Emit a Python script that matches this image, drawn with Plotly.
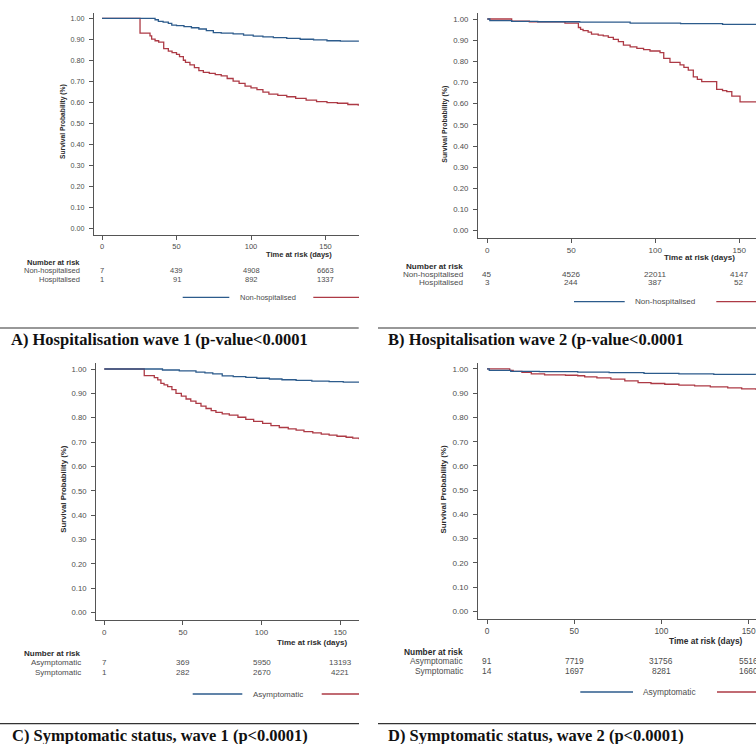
import plotly.graph_objects as go

# ---------------- data ----------------
# Panel A: Hospitalisation wave 1
a_blue_t = [0, 35.6, 37.8, 41, 44.5, 46.8, 50, 55, 60, 65, 70, 74.7, 80, 88, 95, 101.5, 108, 115, 124, 133, 142, 151, 160, 172]
a_blue_s = [1.000, 0.993, 0.985, 0.982, 0.976, 0.967, 0.965, 0.960, 0.955, 0.949, 0.941, 0.932, 0.929, 0.926, 0.920, 0.915, 0.911, 0.908, 0.904, 0.900, 0.897, 0.893, 0.891, 0.888]
a_red_t = [0, 25.5, 32.2, 33.3, 35.6, 38, 41.4, 44.5, 47, 50, 52, 54.6, 56, 59, 62, 65, 68, 72, 76, 80, 84, 88, 92, 96, 100, 104, 108, 112, 118, 124, 130, 137, 144, 151, 158, 165, 172]
a_red_s = [1.000, 0.929, 0.916, 0.901, 0.893, 0.886, 0.855, 0.843, 0.836, 0.828, 0.817, 0.800, 0.790, 0.778, 0.765, 0.750, 0.742, 0.737, 0.731, 0.725, 0.713, 0.700, 0.690, 0.677, 0.668, 0.660, 0.648, 0.638, 0.632, 0.626, 0.618, 0.610, 0.603, 0.598, 0.595, 0.589, 0.583]

# Panel B: Hospitalisation wave 2
b_blue_t = [0, 1.5, 14.5, 30, 55, 85, 115, 140, 160]
b_blue_s = [1.000, 0.992, 0.989, 0.987, 0.985, 0.981, 0.978, 0.975, 0.973]
b_red_t = [0, 14.5, 25, 46.2, 54.2, 55.5, 57, 60, 62, 66, 69, 72, 75, 78, 81, 85, 89, 93, 96.8, 102.8, 105, 108.7, 114.7, 117, 119.6, 122.6, 125, 127.6, 136.5, 140, 142.5, 145.5, 150.4, 160]
b_red_s = [1.000, 0.990, 0.987, 0.981, 0.960, 0.951, 0.945, 0.938, 0.929, 0.924, 0.920, 0.913, 0.904, 0.893, 0.877, 0.868, 0.861, 0.855, 0.849, 0.841, 0.814, 0.795, 0.783, 0.772, 0.759, 0.727, 0.715, 0.704, 0.668, 0.662, 0.657, 0.636, 0.609, 0.609]

# Panel C: Symptomatic status, wave 1
c_blue_t = [0, 37, 47.7, 58.3, 64, 69, 75, 82, 90, 97, 105, 113, 122, 132, 143, 152, 162]
c_blue_s = [1.000, 0.996, 0.992, 0.987, 0.984, 0.980, 0.972, 0.969, 0.966, 0.962, 0.959, 0.956, 0.953, 0.950, 0.948, 0.946, 0.944]
c_red_t = [0, 25.4, 31.8, 34, 36, 38, 40.3, 43, 45.6, 49, 52, 55, 58.3, 61.5, 64.7, 68, 71, 75, 79.5, 85, 90, 95, 100.7, 106, 111.3, 117, 122, 127, 132.6, 138, 143, 148, 153.8, 158, 162]
c_red_s = [1.000, 0.973, 0.965, 0.955, 0.941, 0.935, 0.928, 0.915, 0.900, 0.889, 0.877, 0.868, 0.859, 0.848, 0.838, 0.829, 0.822, 0.816, 0.811, 0.802, 0.793, 0.785, 0.777, 0.768, 0.760, 0.754, 0.749, 0.743, 0.738, 0.733, 0.729, 0.724, 0.720, 0.716, 0.712]

# Panel D: Symptomatic status, wave 2
d_blue_t = [0, 1.3, 13.6, 30, 52, 70, 90, 110, 130, 154]
d_blue_s = [1.000, 0.994, 0.990, 0.989, 0.987, 0.985, 0.982, 0.980, 0.978, 0.976]
d_red_t = [0, 13, 15, 20, 25.4, 33, 45, 52, 56, 63, 71, 79, 86.6, 94, 101.9, 110, 119, 128, 138, 146, 154]
d_red_s = [1.000, 0.994, 0.990, 0.986, 0.980, 0.976, 0.974, 0.972, 0.967, 0.963, 0.958, 0.951, 0.944, 0.940, 0.937, 0.933, 0.930, 0.926, 0.922, 0.918, 0.914]

risk_times = [0, 50, 100, 150]
x_ticks = [0, 50, 100, 150]
y_ticks = [0.0, 0.1, 0.2, 0.3, 0.4, 0.5, 0.6, 0.7, 0.8, 0.9, 1.0]

a_groups = ["Non-hospitalised", "Hospitalised"]
a_risk_1 = ["7", "439", "4908", "6663"]
a_risk_2 = ["1", "91", "892", "1337"]
b_groups = ["Non-hospitalised", "Hospitalised"]
b_risk_1 = ["45", "4526", "22011", "4147"]
b_risk_2 = ["3", "244", "387", "52"]
c_groups = ["Asymptomatic", "Symptomatic"]
c_risk_1 = ["7", "369", "5950", "13193"]
c_risk_2 = ["1", "282", "2670", "4221"]
d_groups = ["Asymptomatic", "Symptomatic"]
d_risk_1 = ["91", "7719", "31756", "5516"]
d_risk_2 = ["14", "1697", "8281", "1660"]

captions = [
    "A) Hospitalisation wave 1 (p-value<0.0001",
    "B) Hospitalisation wave 2 (p-value<0.0001",
    "C) Symptomatic status, wave 1 (p<0.0001)",
    "D) Symptomatic status, wave 2 (p<0.0001)",
]

y_title = "Survival Probability (%)"
x_title = "Time at risk (days)"

# ---------------- layout helpers ----------------
W, H = 756, 744
def fx(x):
    return x / W
def fy(y):
    return 1 - y / H

BLUE = "#2c5b8c"
RED = "#ad3a45"
AX = "#555555"
TXT = "#4d4d4d"
BOLD = "#2b2b2b"
SANS = "Liberation Sans, Arial, sans-serif"
SERIF = "Liberation Serif, Times New Roman, serif"

panels = [
    dict(sfx="", xdom=(94, 359), ydom=(12.7, 235), xr=(-5.4, 172.5), yr=(-0.0334, 1.0267), fs=7.5, yfs=6.7,
         blue=(a_blue_t, a_blue_s), red=(a_red_t, a_red_s),
         groups=a_groups, r1=a_risk_1, r2=a_risk_2,
         ytitle=(63, 122), xtitle=(298.5, 254.5), nar_x=82, nar_y=(262.5, 270.5, 279),
         leg=(182.7, 229.3, 237.7, 313.3, 359, 297.3),
         cap=(9.3, 339.5), rule=(0, 358.7, 328)),
    dict(sfx="2", xdom=(478, 756), ydom=(13.3, 238), xr=(-5.54, 159.9), yr=(-0.0345, 1.027), fs=8.1, yfs=6.9,
         blue=(b_blue_t, b_blue_s), red=(b_red_t, b_red_s),
         groups=b_groups, r1=b_risk_1, r2=b_risk_2,
         ytitle=(444.7, 124), xtitle=(699, 257.5), nar_x=465.3, nar_y=(266.3, 274.3, 282.7),
         leg=(574, 624.7, 633, 716.3, 756, 301.7),
         cap=(386.3, 339.5), rule=(378, 756, 328)),
    dict(sfx="3", xdom=(96, 359), ydom=(362.5, 620.3), xr=(-5.28, 162), yr=(-0.0313, 1.0267), fs=8.0, yfs=7.8,
         blue=(c_blue_t, c_blue_s), red=(c_red_t, c_red_s),
         groups=c_groups, r1=c_risk_1, r2=c_risk_2,
         ytitle=(63.3, 489.5), xtitle=(311.7, 642.5), nar_x=82.7, nar_y=(653, 662, 672),
         leg=(192.7, 242.3, 250.7, 321.7, 359, 694),
         cap=(10, 735), rule=(0, 359, 723.7)),
    dict(sfx="4", xdom=(478, 756), ydom=(362.5, 619.3), xr=(-5.16, 154.2), yr=(-0.033, 1.0267), fs=8.4, yfs=7.9,
         blue=(d_blue_t, d_blue_s), red=(d_red_t, d_red_s),
         groups=d_groups, r1=d_risk_1, r2=d_risk_2,
         ytitle=(443.7, 488.8), xtitle=(706.3, 641.3), nar_x=464.7, nar_y=(651.6, 661, 670.7),
         leg=(580.3, 633, 641.3, 717, 756, 692),
         cap=(386.3, 735), rule=(378, 756, 723.7)),
]

fig = go.Figure()
annotations = []
shapes = []
layout_axes = {}

for i, p in enumerate(panels):
    s = p["sfx"]
    xa = "x" + s
    ya = "y" + s
    for (t, v), col in ((p["red"], RED), (p["blue"], BLUE)):
        fig.add_trace(go.Scatter(x=t, y=v, mode="lines", xaxis=xa, yaxis=ya,
                                 line=dict(shape="hv", color=col, width=1.3),
                                 showlegend=False, hoverinfo="skip"))
    layout_axes["xaxis" + s] = dict(
        domain=[fx(p["xdom"][0]), fx(p["xdom"][1])], range=list(p["xr"]), anchor=ya,
        showline=True, linecolor=AX, linewidth=1, ticks="outside", ticklen=4, tickcolor=AX,
        tickvals=x_ticks, showgrid=False, zeroline=False,
        tickfont=dict(family=SANS, size=p["fs"], color=TXT), fixedrange=True)
    layout_axes["yaxis" + s] = dict(
        domain=[fy(p["ydom"][1]), fy(p["ydom"][0])], range=list(p["yr"]), anchor=xa,
        showline=True, linecolor=AX, linewidth=1, ticks="outside", ticklen=4, tickcolor=AX,
        tickvals=y_ticks, tickformat=".2f", showgrid=False, zeroline=False,
        ticklabelstandoff=3,
        tickfont=dict(family=SANS, size=p["fs"] - 0.3, color=TXT), fixedrange=True)

    # axis titles
    annotations.append(dict(text="<b>" + y_title + "</b>", xref="paper", yref="paper",
                            x=fx(p["ytitle"][0]), y=fy(p["ytitle"][1]), textangle=-90,
                            showarrow=False, xanchor="center", yanchor="middle",
                            font=dict(family=SANS, size=p["yfs"], color=BOLD)))
    annotations.append(dict(text="<b>" + x_title + "</b>", xref="paper", yref="paper",
                            x=fx(p["xtitle"][0]), y=fy(p["xtitle"][1]),
                            showarrow=False, xanchor="center", yanchor="middle",
                            font=dict(family=SANS, size=p["fs"], color=BOLD)))
    # number at risk
    ny = p["nar_y"]
    annotations.append(dict(text="<b>Number at risk</b>", xref="paper", yref="paper",
                            x=fx(p["nar_x"]), y=fy(ny[0]), showarrow=False,
                            xanchor="right", yanchor="middle",
                            font=dict(family=SANS, size=p["fs"], color=BOLD)))
    for g, row, yy in ((p["groups"][0], p["r1"], ny[1]), (p["groups"][1], p["r2"], ny[2])):
        annotations.append(dict(text=g, xref="paper", yref="paper",
                                x=fx(p["nar_x"]), y=fy(yy), showarrow=False,
                                xanchor="right", yanchor="middle",
                                font=dict(family=SANS, size=p["fs"], color=TXT)))
        for tval, n in zip(risk_times, row):
            annotations.append(dict(text=n, xref=xa, yref="paper", x=tval, y=fy(yy),
                                    showarrow=False, xanchor="center", yanchor="middle",
                                    font=dict(family=SANS, size=p["fs"], color=TXT)))
    # legend keys
    bx0, bx1, tx, rx0, rx1, ly = p["leg"]
    shapes.append(dict(type="line", xref="paper", yref="paper", x0=fx(bx0), x1=fx(bx1),
                       y0=fy(ly), y1=fy(ly), line=dict(color=BLUE, width=1.3)))
    shapes.append(dict(type="line", xref="paper", yref="paper", x0=fx(rx0), x1=fx(rx1),
                       y0=fy(ly), y1=fy(ly), line=dict(color=RED, width=1.3)))
    annotations.append(dict(text=p["groups"][0], xref="paper", yref="paper",
                            x=fx(tx), y=fy(ly), showarrow=False, xanchor="left", yanchor="middle",
                            font=dict(family=SANS, size=p["fs"], color=TXT)))
    # caption rule + caption
    r0, r1, ry = p["rule"]
    shapes.append(dict(type="line", xref="paper", yref="paper", x0=fx(r0), x1=fx(r1),
                       y0=fy(ry), y1=fy(ry), line=dict(color="#333333", width=1.2)))
    annotations.append(dict(text="<b>" + captions[i] + "</b>", xref="paper", yref="paper",
                            x=fx(p["cap"][0]), y=fy(p["cap"][1]), showarrow=False,
                            xanchor="left", yanchor="middle",
                            font=dict(family=SERIF, size=16.5, color="#111111")))

fig.update_layout(
    width=W, height=H, autosize=False,
    margin=dict(l=0, r=0, t=0, b=0, pad=0),
    paper_bgcolor="white", plot_bgcolor="white",
    showlegend=False,
    annotations=annotations, shapes=shapes,
    **layout_axes,
)

fig.write_html("out.html", config={"displayModeBar": False},
               post_script="document.body.style.margin='0px';document.body.style.overflow='hidden';")
